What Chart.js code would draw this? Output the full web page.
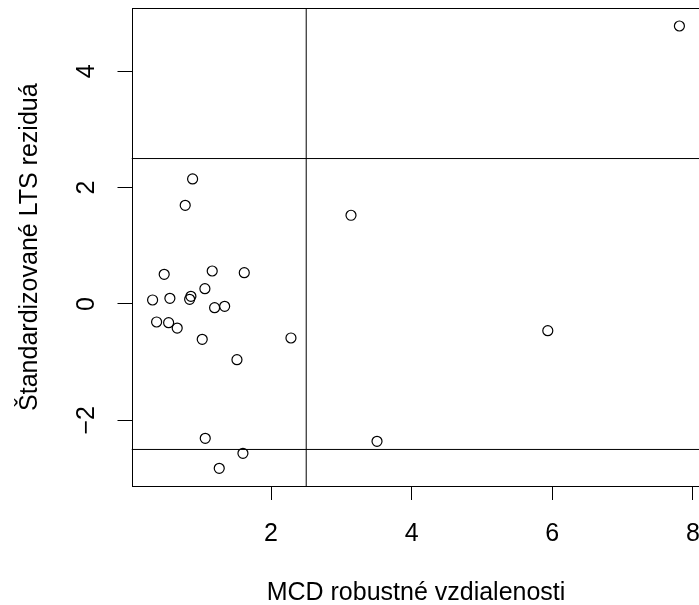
<!DOCTYPE html>
<html>
<head>
<meta charset="utf-8">
<script src="https://cdn.jsdelivr.net/npm/chart.js@4"></script>
<style>
  html, body { margin: 0; padding: 0; background: #fff; overflow: hidden; }
  #wrap { width: 701px; height: 605px; }
</style>
</head>
<body>
<div id="wrap"><canvas id="chart" width="701" height="605"></canvas></div>
<script>
// MCD robust distances (x) vs standardized LTS residuals (y)
const mcdDistance = [
  0.884, 0.779, 3.137, 0.480, 1.163, 1.619, 1.059, 0.315, 0.561, 0.860,
  0.842, 1.197, 1.340, 0.372, 0.543, 0.665, 1.021, 2.283, 1.515, 1.064,
  3.507, 1.600, 1.263, 7.808, 5.936
];
const ltsResidual = [
  2.149, 1.696, 1.525, 0.510, 0.567, 0.538, 0.263, 0.069, 0.098, 0.132,
  0.081, -0.064, -0.040, -0.309, -0.321, -0.413, -0.607, -0.584, -0.957, -2.308,
  -2.360, -2.566, -2.824, 4.778, -0.459
];

const xTicks = [2, 4, 6, 8];
const yTicks = [-2, 0, 2, 4];
const xLimits = [0.015, 8.108];
const yLimits = [-3.128, 5.082];
const cutoffX = 2.5;
const cutoffY = [2.5, -2.5];

const xTitle = "MCD robustné vzdialenosti";
const yTitle = "Štandardizované LTS reziduá";

const FONT = "'Liberation Sans', Arial, Helvetica, sans-serif";
const FONT_SIZE = 25;

const points = mcdDistance.map((x, i) => ({ x, y: ltsResidual[i] }));

function refLine(data) {
  return {
    data,
    showLine: true,
    borderColor: "#000",
    borderWidth: 1,
    pointRadius: 0,
    fill: false
  };
}

const datasets = [
  {
    data: points,
    pointStyle: "circle",
    pointRadius: 5,
    pointBorderWidth: 1.2,
    pointBorderColor: "#000",
    pointBackgroundColor: "rgba(0,0,0,0)"
  },
  refLine([{ x: cutoffX, y: yLimits[0] }, { x: cutoffX, y: yLimits[1] }])
];
cutoffY.forEach((c) => {
  datasets.push(refLine([{ x: xLimits[0], y: c }, { x: xLimits[1], y: c }]));
});

// frame around the plot region, like R's box()
const boxPlugin = {
  id: "box",
  afterDatasetsDraw(chart) {
    const { ctx, chartArea: a } = chart;
    ctx.save();
    ctx.strokeStyle = "#000";
    ctx.lineWidth = 1;
    ctx.strokeRect(Math.round(a.left) + 0.5, Math.round(a.top) + 0.5,
      Math.round(a.right - a.left), Math.round(a.bottom - a.top));
    ctx.restore();
  }
};

function fmt(v) {
  return v < 0 ? "\u2212" + (-v) : String(v);
}

const tickGrid = {
  display: true,
  drawOnChartArea: false,
  drawTicks: true,
  tickLength: 14,
  tickColor: "#000",
  tickWidth: 1,
  color: "#000"
};

new Chart(document.getElementById("chart"), {
  type: "scatter",
  data: { datasets },
  plugins: [boxPlugin],
  options: {
    responsive: false,
    animation: false,
    devicePixelRatio: 1,
    events: [],
    layout: {
      autoPadding: false,
      padding: { top: 8.3, right: 0.5, bottom: 0, left: 0 }
    },
    plugins: {
      legend: { display: false },
      tooltip: { enabled: false }
    },
    scales: {
      x: {
        type: "linear",
        min: xLimits[0],
        max: xLimits[1],
        afterBuildTicks(scale) {
          scale.ticks = xTicks.map((v) => ({ value: v }));
        },
        afterFit(scale) {
          scale.height = 119;
          scale.paddingLeft = 0;
          scale.paddingRight = 0;
        },
        grid: tickGrid,
        border: { display: false },
        ticks: {
          color: "#000",
          font: { family: FONT, size: FONT_SIZE },
          padding: 19.4,
          maxRotation: 0,
          callback: fmt
        },
        title: {
          display: true,
          text: xTitle,
          color: "#000",
          font: { family: FONT, size: FONT_SIZE },
          padding: { top: 0, bottom: -3 }
        }
      },
      y: {
        type: "linear",
        min: yLimits[0],
        max: yLimits[1],
        afterBuildTicks(scale) {
          scale.ticks = yTicks.map((v) => ({ value: v }));
        },
        afterFit(scale) {
          scale.width = 131.5;
          scale.paddingTop = 0;
          scale.paddingBottom = 0;
        },
        grid: tickGrid,
        border: { display: false },
        ticks: {
          color: "#000",
          font: { family: FONT, size: FONT_SIZE },
          padding: 16.5,
          minRotation: 90,
          maxRotation: 90,
          crossAlign: "center",
          callback: fmt
        },
        title: {
          display: true,
          text: yTitle,
          color: "#000",
          font: { family: FONT, size: FONT_SIZE },
          padding: { top: 15, bottom: 0 }
        }
      }
    }
  }
});
</script>
</body>
</html>
